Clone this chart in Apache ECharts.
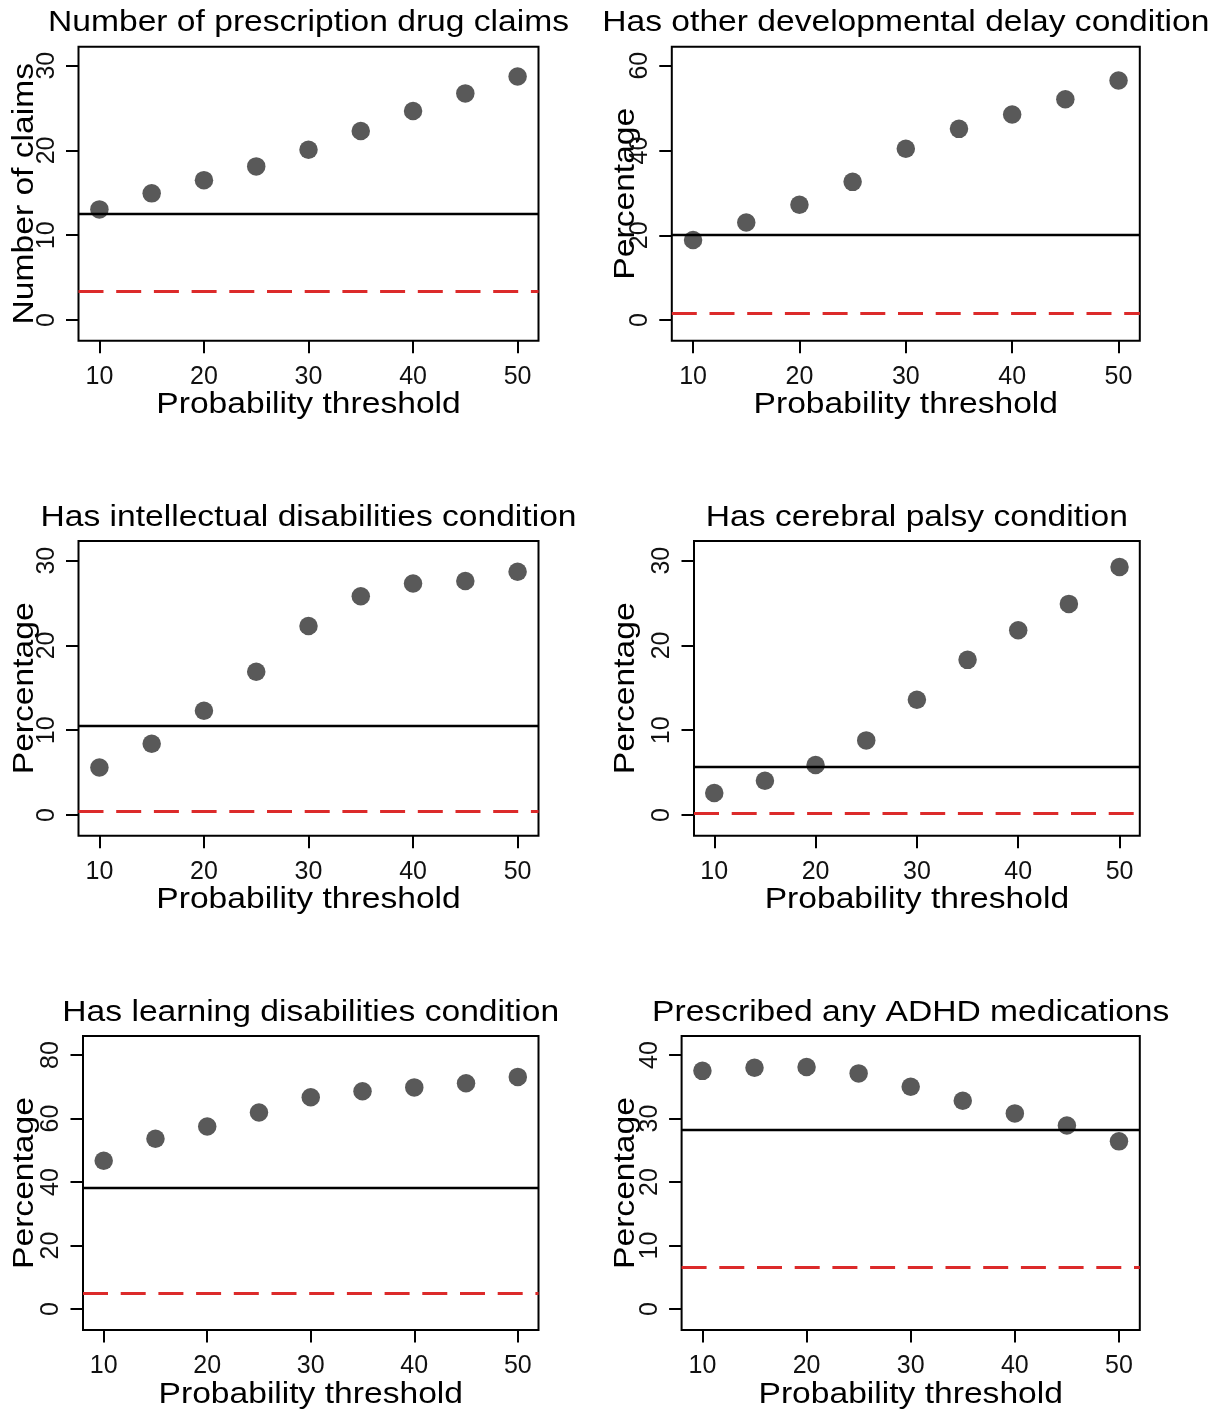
<!DOCTYPE html>
<html>
<head>
<meta charset="utf-8">
<title>Probability threshold panels</title>
<script src="https://cdn.jsdelivr.net/npm/echarts@6/dist/echarts.min.js"></script>
<style>
  html, body { margin: 0; padding: 0; background: #ffffff; }
  #chart { width: 1209px; height: 1412px; }
</style>
</head>
<body>
<div id="chart"></div>
<script>
// Probability thresholds on the x axis
const thresholds = [10, 15, 20, 25, 30, 35, 40, 45, 50];
const xTickValues = [10, 20, 30, 40, 50];

// Panel titles and y-axis names
const panelTitles = [
  'Number of prescription drug claims',
  'Has other developmental delay condition',
  'Has intellectual disabilities condition',
  'Has cerebral palsy condition',
  'Has learning disabilities condition',
  'Prescribed any ADHD medications'
];
const yAxisNames = ['Number of claims', 'Percentage', 'Percentage', 'Percentage', 'Percentage', 'Percentage'];
const xAxisName = 'Probability threshold';

// Values at each threshold
const drugClaims = [13.05, 14.94, 16.5, 18.12, 20.08, 22.29, 24.65, 26.73, 28.73];
const otherDelay = [18.9, 23.0, 27.2, 32.6, 40.4, 45.1, 48.5, 52.1, 56.5];
const intellectual = [5.6, 8.4, 12.3, 16.9, 22.3, 25.8, 27.3, 27.6, 28.7];
const cerebralPalsy = [2.6, 4.05, 5.9, 8.8, 13.6, 18.3, 21.8, 24.9, 29.25];
const learning = [46.7, 53.6, 57.5, 61.9, 66.7, 68.6, 69.8, 71.1, 73.1];
const adhdMeds = [37.5, 38.0, 38.1, 37.1, 35.0, 32.8, 30.8, 28.9, 26.4];

// Horizontal reference levels: solid black and dashed red
const solidLevels = [12.54, 20.1, 10.53, 5.74, 38.2, 28.24];
const dashedLevels = [3.42, 1.57, 0.39, 0.2, 5.04, 6.5];

// Y-axis tick labels per panel
const yTickValues = [
  [0, 10, 20, 30],
  [0, 20, 40, 60],
  [0, 10, 20, 30],
  [0, 10, 20, 30],
  [0, 20, 40, 60, 80],
  [0, 10, 20, 30, 40]
];

// Plotted y-range per panel
const yMins = [-2.44, -4.87, -2.44, -2.44, -6.61, -3.31];
const yMaxs = [32.24, 64.48, 32.32, 32.32, 85.98, 42.99];
const xMin = 8, xMax = 52;

const panelValues = [drugClaims, otherDelay, intellectual, cerebralPalsy, learning, adhdMeds];

// Plot-box geometry (pixels) for the 3 x 2 layout
const boxes = [
  { left: 78.5, top: 46.7, right: 538.5, bottom: 340.7 },
  { left: 671.8, top: 46.7, right: 1139.8, bottom: 340.7 },
  { left: 78.5, top: 541, right: 538.5, bottom: 835.7 },
  { left: 694, top: 541, right: 1139.8, bottom: 835.7 },
  { left: 83, top: 1036, right: 538.5, bottom: 1330 },
  { left: 681.6, top: 1036, right: 1139.8, bottom: 1330 }
];
const titleRowY = [22.5, 517.5, 1013];
const xNameRowY = [405, 900, 1395];
const yNameColX = [25, 626];

const FONT = '"Liberation Sans", Arial, Helvetica, sans-serif';
const BIG = 30;
const STRETCH = 1.12;

const grids = [], xAxes = [], yAxes = [], series = [], graphics = [];

boxes.forEach((b, i) => {
  const row = Math.floor(i / 2), col = i % 2;
  grids.push({
    left: b.left, top: b.top,
    width: b.right - b.left, height: b.bottom - b.top,
    show: true, borderColor: '#000', borderWidth: 2,
    backgroundColor: 'transparent', containLabel: false
  });
  xAxes.push({
    type: 'value', gridIndex: i, min: xMin, max: xMax, position: 'bottom',
    axisLine: { show: false, onZero: false },
    splitLine: { show: false },
    axisTick: { show: true, inside: false, length: 12.5, customValues: xTickValues,
      lineStyle: { color: '#000', width: 2 } },
    axisLabel: { show: true, customValues: xTickValues, margin: 24,
      fontSize: 25, fontFamily: FONT, color: '#111' }
  });
  yAxes.push({
    type: 'value', gridIndex: i, min: yMins[i], max: yMaxs[i], position: 'left',
    axisLine: { show: false, onZero: false },
    splitLine: { show: false },
    axisTick: { show: true, inside: false, length: 12.5, customValues: yTickValues[i],
      lineStyle: { color: '#000', width: 2 } },
    axisLabel: { show: true, customValues: yTickValues[i], rotate: 90, margin: 19,
      fontSize: 25, fontFamily: FONT, color: '#111' }
  });
  series.push({
    type: 'scatter', xAxisIndex: i, yAxisIndex: i,
    data: thresholds.map((t, k) => [t, panelValues[i][k]]),
    symbol: 'circle', symbolSize: 18.5,
    itemStyle: { color: '#595959', opacity: 1 },
    z: 2,
    markLine: {
      silent: true, symbol: ['none', 'none'], animation: false,
      label: { show: false }, emphasis: { disabled: true },
      z: 5,
      data: [
        { yAxis: solidLevels[i], lineStyle: { color: '#000', width: 2.4, type: 'solid' } },
        { yAxis: dashedLevels[i], lineStyle: { color: '#dc2a2a', width: 2.8, type: [25, 12.7] } }
      ]
    }
  });

  const cx = (b.left + b.right) / 2;
  const cy = (b.top + b.bottom) / 2;
  // Panel title
  graphics.push({
    type: 'text', x: cx, y: titleRowY[row], scaleX: STRETCH, scaleY: 1,
    style: { text: panelTitles[i], font: BIG + 'px ' + FONT, fill: '#000',
      align: 'center', verticalAlign: 'middle', textAlign: 'center', textVerticalAlign: 'middle' }
  });
  // X-axis name
  graphics.push({
    type: 'text', x: cx, y: xNameRowY[row], scaleX: STRETCH, scaleY: 1,
    style: { text: xAxisName, font: BIG + 'px ' + FONT, fill: '#000',
      align: 'center', verticalAlign: 'middle', textAlign: 'center', textVerticalAlign: 'middle' }
  });
  // Y-axis name, reading bottom to top
  graphics.push({
    type: 'text', x: yNameColX[col], y: cy, rotation: Math.PI / 2,
    scaleX: STRETCH, scaleY: 1,
    style: { text: yAxisNames[i], font: BIG + 'px ' + FONT, fill: '#000',
      align: 'center', verticalAlign: 'middle', textAlign: 'center', textVerticalAlign: 'middle' }
  });
});

const chart = echarts.init(document.getElementById('chart'), null, { renderer: 'canvas' });
chart.setOption({
  backgroundColor: '#ffffff',
  animation: false,
  grid: grids,
  xAxis: xAxes,
  yAxis: yAxes,
  series: series,
  graphic: { elements: graphics }
});
</script>
</body>
</html>
